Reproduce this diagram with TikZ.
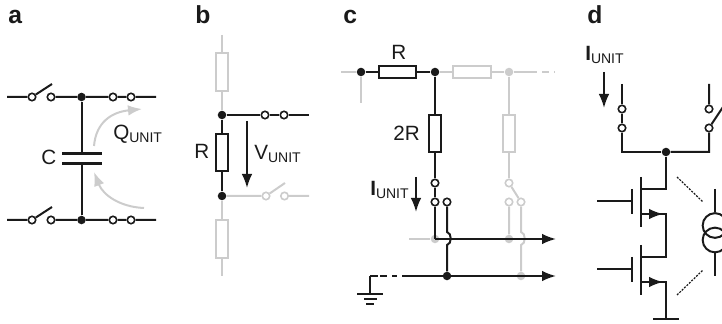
\documentclass[tikz,border=0pt]{standalone}
\usepackage{fontspec}
\setmainfont{Liberation Sans}
\usetikzlibrary{arrows.meta}
\definecolor{lightwire}{HTML}{CCCCCC}
\definecolor{ink}{HTML}{1A1A1A}
\tikzset{>={Latex[length=10.5pt,width=8pt]}}
\tikzset{
	wire/.style={draw=ink,line width=1.5pt},
	ghost/.style={draw=lightwire,line width=1.5pt},
	term/.style={circle,draw=ink,fill=white,line width=1.2pt,inner sep=0pt,minimum size=5.6pt},
	gterm/.style={term,draw=lightwire},
	junc/.style={circle,fill=ink,inner sep=0pt,minimum size=6.4pt},
	gjunc/.style={circle,fill=lightwire,inner sep=0pt,minimum size=6.4pt},
	vres/.style={rectangle,draw=ink,line width=1.5pt,inner sep=0pt,minimum width=9pt,minimum height=28pt},
	hres/.style={vres,minimum width=28pt,minimum height=9pt},
	gvres/.style={vres,draw=lightwire},
	ghres/.style={hres,draw=lightwire},
	lbl/.style={anchor=base west,inner sep=0pt,text=ink,font=\fontsize{15.5}{18}\selectfont},
	panel/.style={anchor=base west,inner sep=0pt,text=ink,font=\fontsize{18.5}{22}\selectfont\bfseries}
}
\newcommand{\unitsub}{\raisebox{-2.2pt}{\fontsize{10.5}{12}\selectfont UNIT}}
\begin{document}
\begin{tikzpicture}[x=.75pt,y=-.75pt]
	\useasboundingbox (0,0) rectangle (722,324);
	\clip (0,0) rectangle (722,324);
	% a
	\node(lblA) at(8,24)[panel]{a};
	\node(swA1) at(32,97)[term]{};
	\node(swA2) at(51,97)[term]{};
	\node(jA1) at(81.5,97)[junc]{};
	\node(tA1) at(113,97)[term]{};
	\node(tA2) at(131,97)[term]{};
	\node(swA3) at(32,220)[term]{};
	\node(swA4) at(51,220)[term]{};
	\node(jA2) at(81.5,220)[junc]{};
	\node(tA3) at(113,220)[term]{};
	\node(tA4) at(131,220)[term]{};
	\coordinate(inA1) at(7,97);
	\coordinate(outA1) at(156,97);
	\coordinate(inA2) at(7,220);
	\coordinate(outA2) at(156,220);
	\coordinate(bladeA1) at(52,84);
	\coordinate(bladeA2) at(52,207);
	\coordinate(plateT) at(81.5,153.5);
	\coordinate(plateB) at(81.5,163.5);
	\draw[wire](inA1)--(swA1) (swA1)--(bladeA1) (swA2)--(jA1)--(tA1)--(tA2)--(outA1);
	\draw[wire](inA2)--(swA3) (swA3)--(bladeA2) (swA4)--(jA2)--(tA3)--(tA4)--(outA2);
	\draw[wire](jA1)--(plateT) (plateB)--(jA2);
	\draw[wire,line width=2.4pt](62,153.5)--(102,153.5);
	\draw[wire,line width=2.4pt](62,163.5)--(102,163.5);
	\node(lblC) at(41,165)[lbl]{C};
	\node(lblQ) at(113,140)[lbl]{Q\unitsub};
	\draw[ghost,->](94,146) .. controls (96,122) and (112,112) .. (142,109);
	\draw[ghost,->](144,208) .. controls (120,207) and (103,195) .. (94,172);
	% b
	\node(lblB) at(195,24)[panel]{b};
	\coordinate(topB) at(222,35);
	\coordinate(botB) at(222,276);
	\coordinate(outB1) at(309,115);
	\coordinate(outB2) at(309,196);
	\coordinate(bladeB) at(285,183);
	\node(rB1) at(222,72)[gvres]{};
	\node(rB2) at(222,152.5)[vres]{};
	\node(rB3) at(222,239)[gvres]{};
	\node(jB1) at(222,115)[junc]{};
	\node(jB2) at(222,196)[junc]{};
	\node(tB1) at(265,115)[term]{};
	\node(tB2) at(284,115)[term]{};
	\node(swB1) at(266,196)[gterm]{};
	\node(swB2) at(284.5,196)[gterm]{};
	\draw[ghost](topB)--(rB1)--(jB1);
	\draw[ghost](jB2)--(rB3)--(botB);
	\draw[ghost](jB2)--(swB1) (swB1)--(bladeB) (swB2)--(outB2);
	\draw[wire](jB1)--(tB1)--(tB2)--(outB1);
	\draw[wire](jB1)--(rB2)--(jB2);
	\coordinate(vT) at(247,121);
	\coordinate(vB) at(247,188);
	\draw[wire,->](vT)--(vB);
	\node(lblR) at(194,159)[lbl]{R};
	\node(lblV) at(254,160)[lbl]{V\unitsub};
	% c
	\node(lblCc) at(343,24)[panel]{c};
	\coordinate(inC) at(341,72);
	\coordinate(stubC) at(361,103);
	\coordinate(dashC1) at(530,72);
	\coordinate(dashC2) at(555,72);
	\coordinate(busL) at(409,239);
	\coordinate(busR) at(556,239);
	\coordinate(gndR) at(556,276);
	\coordinate(gndDash) at(402,276);
	\coordinate(gndC) at(370,276);
	\coordinate(gndTop) at(370,294);
	\coordinate(hopT) at(447,232);
	\coordinate(hopB) at(447,245);
	\coordinate(ghopT) at(521,232);
	\coordinate(ghopB) at(521,245);
	\node(jC1) at(361,72)[junc]{};
	\node(rC1) at(397.5,72)[hres]{};
	\node(jC2) at(435,72)[junc]{};
	\node(rC2) at(472,72)[ghres]{};
	\node(jC3) at(509,72)[gjunc]{};
	\node(rC3) at(435,133.5)[vres]{};
	\node(rC4) at(509,133.5)[gvres]{};
	\node(jC4) at(435,239)[gjunc]{};
	\node(jC5) at(509,239)[gjunc]{};
	\node(jC6) at(447,276)[junc]{};
	\node(jC7) at(521,276)[gjunc]{};
	\node(tC1) at(435,183)[term]{};
	\node(tC2) at(435,202)[term]{};
	\node(tC3) at(447,202)[term]{};
	\node(tC4) at(509,183)[gterm]{};
	\node(tC5) at(509,202)[gterm]{};
	\node(tC6) at(521,202)[gterm]{};
	\draw[ghost](inC)--(jC1)--(stubC);
	\draw[ghost](jC2)--(rC2)--(jC3)--(dashC1);
	\draw[ghost,dash pattern=on 5pt off 4pt](dashC1)--(dashC2);
	\draw[ghost](jC3)--(rC4)--(tC4);
	\draw[ghost](tC4)--(tC6) (tC5)--(jC5);
	\draw[ghost](tC6)--(ghopT) .. controls (526,233) and (526,244) .. (ghopB)--(jC7);
	\draw[ghost](busL)--(jC4);
	\draw[wire](jC1)--(rC1)--(jC2)--(rC3)--(tC1)--(tC2);
	\draw[wire](tC2)--(435,239);
	\draw[wire,->](435,239)--(busR);
	\draw[wire](tC3)--(hopT) .. controls (452,233) and (452,244) .. (hopB)--(jC6);
	\draw[wire,->](gndDash)--(gndR);
	\draw[wire,dash pattern=on 6pt off 1.5pt on 5.25pt off 3.75pt on 3.75pt off 20pt](gndC)--(gndDash);
	\draw[wire](gndC)--(gndTop);
	\draw[wire](357,294)--(383,294);
	\draw[wire](364,299)--(377,299);
	\draw[wire](366,304)--(374,304);
	\coordinate(iCT) at(416,177);
	\coordinate(iCB) at(416,212);
	\draw[wire,->](iCT)--(iCB);
	\node(lblRc) at(391,60)[lbl]{R};
	\node(lbl2R) at(393,141)[lbl]{2R};
	\node(lblIc) at(370,196)[lbl]{\textbf{I}\unitsub};
	% d
	\node(lblD) at(587,24)[panel]{d};
	\node(lblId) at(585,61)[lbl]{\textbf{I}\unitsub};
	\coordinate(iDT) at(604,72);
	\coordinate(iDB) at(604,108);
	\draw[wire,->](iDT)--(iDB);
	\coordinate(inD1) at(622,84);
	\coordinate(inD2) at(709,84);
	\coordinate(cornD1) at(622,152);
	\coordinate(cornD2) at(709,152);
	\coordinate(bladeD) at(723,107);
	\node(tD1) at(622,109)[term]{};
	\node(tD2) at(622,128)[term]{};
	\node(tD3) at(709,109)[term]{};
	\node(tD4) at(709,128)[term]{};
	\node(jD) at(666,152)[junc]{};
	\draw[wire](inD1)--(tD1)--(tD2)--(cornD1)--(jD);
	\draw[wire](inD2)--(tD3) (tD4)--(bladeD) (tD4)--(cornD2)--(jD);
	\coordinate(drainA) at(666,189);
	\coordinate(drainB) at(641,189);
	\coordinate(srcA) at(641,214);
	\coordinate(srcB) at(666,214);
	\coordinate(drainC) at(641,257);
	\coordinate(drainD) at(666,257);
	\coordinate(srcC) at(641,282);
	\coordinate(srcD) at(666,282);
	\coordinate(rail) at(666,319);
	\draw[wire](jD)--(drainA)--(drainB);
	\draw[wire](srcA)--(srcB)--(drainD)--(drainC);
	\draw[wire](srcC)--(srcD)--(rail);
	\draw[wire](653,319)--(679,319);
	\draw[wire](641,177)--(641,227);
	\draw[wire](641,245)--(641,295);
	\draw[wire](632,189)--(632,214);
	\draw[wire](632,257)--(632,282);
	\draw[wire](597,201)--(632,201);
	\draw[wire](597,269)--(632,269);
	\draw[wire,->](srcA)--(663,214);
	\draw[wire,->](srcC)--(663,282);
	\draw[wire,densely dotted,line width=.9pt](677,177)--(703,202);
	\draw[wire,densely dotted,line width=.9pt](677,295)--(703,270);
	\node(srcT) at(715,225.5)[circle,draw=ink,line width=1.5pt,inner sep=0pt,minimum size=18.5pt]{};
	\node(srcL) at(715,240)[circle,draw=ink,line width=1.5pt,inner sep=0pt,minimum size=18.5pt]{};
	\coordinate(srcTop) at(715,189);
	\coordinate(srcBot) at(715,276);
	\draw[wire](srcTop)--(srcT);
	\draw[wire](srcL)--(srcBot);
\end{tikzpicture}
\end{document}
